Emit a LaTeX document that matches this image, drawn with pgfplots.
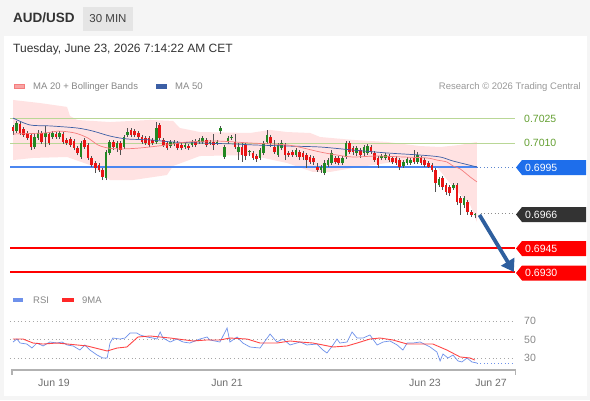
\documentclass[border=0pt]{standalone}
\usepackage{pgfplots}
\pgfplotsset{compat=1.18}
\usepackage{pgfplotstable}
\usetikzlibrary{arrows.meta}
\usepackage{fontspec}
\setmainfont{Liberation Sans}
\definecolor{candleG}{RGB}{34,135,34}
\definecolor{candleR}{RGB}{232,20,20}
\definecolor{wick}{RGB}{80,80,80}
\definecolor{bandfill}{RGB}{255,226,226}
\definecolor{ma20}{RGB}{245,125,125}
\definecolor{ma50}{RGB}{60,95,165}
\definecolor{lvlgreen}{RGB}{185,215,150}
\definecolor{txtgreen}{RGB}{100,160,50}
\definecolor{lvlblue}{RGB}{75,135,240}
\definecolor{boxblue}{RGB}{30,110,235}
\definecolor{boxdark}{RGB}{51,51,51}
\definecolor{lvlred}{RGB}{255,0,0}
\definecolor{rsiblue}{RGB}{110,145,235}
\definecolor{rsired}{RGB}{255,40,40}
\definecolor{bggray}{RGB}{245,245,245}
\definecolor{txtgray}{RGB}{136,136,136}
\definecolor{txtdate}{RGB}{110,110,110}
\definecolor{arrowblue}{RGB}{46,95,158}

\pgfplotstableread{
x o h l c
1 0.70175 0.70238 0.70163 0.70225
6 0.70076 0.70163 0.70064 0.70138
7 0.70132 0.70182 0.70120 0.70163
9 0.70138 0.70207 0.70076 0.70163
11 0.70138 0.70175 0.70126 0.70163
13 0.70138 0.70175 0.70126 0.70163
19 0.70014 0.70113 0.70002 0.70101
26 0.69884 0.70057 0.69871 0.70045
27 0.70039 0.70120 0.70026 0.70107
29 0.70070 0.70113 0.70045 0.70101
31 0.70076 0.70151 0.70064 0.70138
32 0.70151 0.70194 0.70138 0.70169
40 0.70107 0.70231 0.70095 0.70194
44 0.70082 0.70120 0.70070 0.70107
45 0.70095 0.70120 0.70082 0.70107
48 0.70076 0.70101 0.70064 0.70089
50 0.70089 0.70120 0.70076 0.70107
52 0.70107 0.70132 0.70095 0.70120
53 0.70107 0.70144 0.70095 0.70132
55 0.70101 0.70120 0.70089 0.70107
57 0.70101 0.70120 0.70089 0.70107
58 0.70175 0.70207 0.70157 0.70194
59 0.70014 0.70089 0.70002 0.70076
60 0.70107 0.70144 0.70095 0.70132
61 0.70132 0.70151 0.70120 0.70138
63 0.70045 0.70101 0.69995 0.70076
66 0.70045 0.70057 0.70020 0.70051
69 0.70008 0.70070 0.69995 0.70057
70 0.70039 0.70113 0.70026 0.70101
71 0.70107 0.70182 0.70095 0.70151
74 0.70026 0.70101 0.70014 0.70089
75 0.70070 0.70120 0.70057 0.70101
79 0.70026 0.70070 0.70014 0.70057
86 0.69933 0.69964 0.69915 0.69952
87 0.69915 0.69995 0.69902 0.69977
88 0.69964 0.70008 0.69952 0.69995
89 0.69977 0.70057 0.69964 0.70039
92 0.69977 0.70020 0.69964 0.70008
93 0.70014 0.70113 0.70002 0.70101
96 0.70039 0.70082 0.70020 0.70070
98 0.70039 0.70089 0.70020 0.70076
99 0.70039 0.70095 0.70026 0.70082
103 0.70008 0.70033 0.69995 0.70020
104 0.70008 0.70039 0.69995 0.70026
109 0.69958 0.69995 0.69946 0.69983
110 0.69977 0.70014 0.69964 0.70002
111 0.69977 0.70008 0.69964 0.69995
113 0.69983 0.70045 0.69971 0.70026
119 0.69840 0.69890 0.69828 0.69878
123 0.69822 0.69853 0.69809 0.69840
126 0.69716 0.69772 0.69697 0.69760
129 0.69654 0.69666 0.69635 0.69660
}\greentab

\pgfplotstableread{
x o h l c
0 0.70200 0.70213 0.70151 0.70175
2 0.70219 0.70231 0.70151 0.70163
3 0.70188 0.70200 0.70138 0.70151
4 0.70163 0.70175 0.70120 0.70132
5 0.70151 0.70163 0.70057 0.70076
8 0.70163 0.70175 0.70095 0.70107
10 0.70157 0.70169 0.70089 0.70101
12 0.70157 0.70169 0.70126 0.70138
14 0.70157 0.70169 0.70095 0.70107
15 0.70120 0.70132 0.70089 0.70101
16 0.70126 0.70138 0.70076 0.70089
17 0.70113 0.70126 0.70057 0.70070
18 0.70070 0.70082 0.70026 0.70039
20 0.70120 0.70132 0.70064 0.70076
21 0.70089 0.70101 0.69995 0.70008
22 0.70008 0.70020 0.69952 0.69964
23 0.69977 0.69989 0.69915 0.69946
24 0.69964 0.69977 0.69921 0.69933
25 0.69933 0.69946 0.69871 0.69890
28 0.70107 0.70120 0.70057 0.70076
30 0.70101 0.70113 0.70026 0.70057
33 0.70182 0.70194 0.70138 0.70151
34 0.70175 0.70188 0.70138 0.70151
35 0.70163 0.70175 0.70126 0.70138
36 0.70138 0.70151 0.70095 0.70107
37 0.70132 0.70144 0.70089 0.70101
38 0.70132 0.70144 0.70076 0.70089
39 0.70120 0.70132 0.70089 0.70101
41 0.70213 0.70225 0.70120 0.70132
42 0.70120 0.70132 0.70076 0.70089
43 0.70101 0.70113 0.70057 0.70070
46 0.70101 0.70113 0.70057 0.70070
47 0.70089 0.70101 0.70057 0.70070
49 0.70082 0.70095 0.70057 0.70070
51 0.70113 0.70126 0.70076 0.70089
54 0.70120 0.70132 0.70076 0.70089
56 0.70107 0.70157 0.70057 0.70089
62 0.70107 0.70157 0.70064 0.70076
64 0.70076 0.70101 0.69983 0.70026
65 0.70089 0.70101 0.69995 0.70020
67 0.70039 0.70051 0.69995 0.70008
68 0.70020 0.70033 0.69983 0.70002
72 0.70138 0.70151 0.70076 0.70101
73 0.70076 0.70120 0.70033 0.70045
76 0.70089 0.70101 0.69995 0.70026
77 0.70039 0.70051 0.70014 0.70026
78 0.70045 0.70057 0.70014 0.70026
80 0.70045 0.70057 0.69995 0.70014
81 0.70039 0.70051 0.69995 0.70014
82 0.70026 0.70039 0.69946 0.69995
83 0.70014 0.70026 0.69971 0.69983
84 0.70008 0.70020 0.69964 0.69983
85 0.69952 0.69977 0.69921 0.69933
90 0.70008 0.70020 0.69971 0.69983
91 0.70008 0.70020 0.69964 0.69977
94 0.70101 0.70113 0.70033 0.70045
95 0.70070 0.70082 0.70026 0.70045
97 0.70057 0.70070 0.70008 0.70026
100 0.70076 0.70089 0.70033 0.70045
101 0.70039 0.70051 0.69983 0.69995
102 0.70008 0.70020 0.69946 0.69964
105 0.70020 0.70033 0.69983 0.69995
106 0.70008 0.70020 0.69971 0.69983
107 0.70008 0.70020 0.69964 0.69977
108 0.69995 0.70008 0.69933 0.69952
112 0.70008 0.70057 0.69971 0.69983
114 0.70008 0.70020 0.69964 0.69977
115 0.69995 0.70008 0.69952 0.69964
116 0.69977 0.69989 0.69946 0.69952
117 0.69964 0.69977 0.69921 0.69933
118 0.69933 0.69946 0.69797 0.69853
120 0.69884 0.69896 0.69809 0.69828
121 0.69840 0.69853 0.69778 0.69797
122 0.69828 0.69840 0.69772 0.69791
124 0.69840 0.69853 0.69716 0.69735
125 0.69760 0.69772 0.69654 0.69728
127 0.69735 0.69747 0.69654 0.69673
128 0.69673 0.69685 0.69641 0.69654
}\redtab

\begin{document}
\begin{tikzpicture}[x=1pt,y=1pt]
% background and panel
\fill[bggray] (0,0) rectangle (590,400);
\fill[white] (4,4) rectangle (587,364);
\fill[black!10] (83,369) rectangle (133,393);
\node[anchor=west, inner sep=0pt, text=black!80, font=\bfseries\fontsize{13.5}{16}\selectfont] at (13,382) {AUD/USD};
\node[inner sep=0pt, text=black!75, font=\fontsize{11.5}{14}\selectfont] at (108,381) {30 MIN};
\node[anchor=base west, inner sep=0pt, text=black!80, font=\fontsize{12}{14}\selectfont] at (13,347) {Tuesday, June 23, 2026 7:14:22 AM CET};
% legend main
\fill[ma20!70] (14,311) rectangle (25,316);
\draw[ma20, line width=0.6pt] (14.3,311.3) rectangle (24.7,315.7);
\node[anchor=base west, inner sep=0pt, text=txtgray, font=\fontsize{9.5}{11}\selectfont] at (33,310.5) {MA 20 + Bollinger Bands};
\fill[ma50] (156,311) rectangle (167,315.5);
\node[anchor=base west, inner sep=0pt, text=txtgray, font=\fontsize{9.5}{11}\selectfont] at (175,310.5) {MA 50};
\node[anchor=base east, inner sep=0pt, text=black!40, font=\fontsize{9.5}{11}\selectfont] at (581,310.5) {Research © 2026 Trading Central};
% legend RSI
\fill[rsiblue] (13,98.5) rectangle (23,102);
\node[anchor=base west, inner sep=0pt, text=txtgray, font=\fontsize{9.5}{11}\selectfont] at (33,97) {RSI};
\fill[rsired] (62,98) rectangle (74,102.5);
\node[anchor=base west, inner sep=0pt, text=txtgray, font=\fontsize{9.5}{11}\selectfont] at (82,97) {9MA};

% ================= main price axis =================
\begin{axis}[
  at={(10pt,120pt)}, anchor=south west, scale only axis,
  width=505pt, height=185pt,
  xmin=-0.838, xmax=140.22, ymin=0.69250, ymax=0.70399,
  hide axis, clip=false,
]
% Bollinger band (upper boundary left to right, lower boundary right to left)
\addplot[fill=bandfill, draw=none] coordinates {(0,0.70368) (7.5,0.70349) (15.1,0.70325) (15.9,0.70269) (17.9,0.70244) (27.1,0.70231) (38.3,0.70244) (44.7,0.70238) (46.6,0.70194) (52.2,0.70169) (66.2,0.70163) (71.8,0.70182) (76.5,0.70169) (83,0.70163) (85.8,0.70138) (95,0.70120) (104.5,0.70107) (113.7,0.70082) (119.3,0.70076) (124.9,0.70089) (129.6,0.70107)
 (129.6,0.69610) (127.7,0.69716) (122.9,0.69828) (118.4,0.69952) (113.7,0.69983) (104.5,0.69977) (95,0.69946) (88.5,0.69921) (83.8,0.69921) (76.5,0.69977) (66.2,0.70026) (52.2,0.70020) (44.7,0.69958) (43,0.69902) (33.5,0.69871) (27.1,0.69871) (24.3,0.69921) (21.5,0.69964) (15.1,0.70014) (5.6,0.70008) (0,0.69995)} -- cycle;
% level lines
\addplot[lvlgreen, line width=1pt] coordinates {(-0.838,0.7025) (140.22,0.7025)};
\addplot[lvlgreen, line width=1pt] coordinates {(-0.838,0.7010) (140.22,0.7010)};
\addplot[draw=lvlblue, line width=1.6pt] coordinates {(-0.838,0.6995) (129.6,0.6995)};
\addplot[draw=lvlblue!70!gray, line width=1pt, dash pattern=on 1pt off 2.5pt] coordinates {(129.6,0.6995) (140.22,0.6995)};
\addplot[lvlred, line width=1.6pt] coordinates {(-0.838,0.6945) (140.22,0.6945)};
\addplot[lvlred, line width=1.6pt] coordinates {(-0.838,0.6930) (140.22,0.6930)};
\addplot[black!45, line width=1pt, dash pattern=on 1pt off 2.5pt] coordinates {(130.6,0.6966) (140.22,0.6966)};
% wicks
\addplot[draw=none, mark=none, error bars/.cd, y dir=plus, y explicit, error mark=none, error bar style={draw=wick, line width=0.6pt}] table[x=x, y=l, y error expr=\thisrow{h}-\thisrow{l}] {\greentab};
\addplot[draw=none, mark=none, error bars/.cd, y dir=plus, y explicit, error mark=none, error bar style={draw=wick, line width=0.6pt}] table[x=x, y=l, y error expr=\thisrow{h}-\thisrow{l}] {\redtab};
% bodies
\addplot[draw=none, mark=none, error bars/.cd, y dir=plus, y explicit, error mark=none, error bar style={draw=candleG, line width=2.6pt}] table[x=x, y=o, y error expr=\thisrow{c}-\thisrow{o}] {\greentab};
\addplot[draw=none, mark=none, error bars/.cd, y dir=plus, y explicit, error mark=none, error bar style={draw=candleR, line width=2.6pt}] table[x=x, y=c, y error expr=\thisrow{o}-\thisrow{c}] {\redtab};
% moving averages
\addplot[ma50, line width=0.7pt, smooth] coordinates {(0,0.70256) (4.7,0.70213) (10.3,0.70207) (17.9,0.70194) (22.3,0.70175) (27.1,0.70144) (31.8,0.70126) (38.3,0.70120) (44.7,0.70107) (52.2,0.70101) (61.5,0.70095) (67,0.70089) (76.5,0.70082) (85.8,0.70076) (95,0.70057) (104.5,0.70039) (113.7,0.70026) (119.3,0.70014) (122.9,0.69989) (129.6,0.69952)};
\addplot[ma20, line width=0.7pt, smooth] coordinates {(0,0.70157) (8.9,0.70163) (12.6,0.70175) (17.3,0.70163) (20.9,0.70132) (23.7,0.70089) (26.5,0.70070) (30.2,0.70064) (35.5,0.70070) (43,0.70089) (48.6,0.70107) (57,0.70113) (66.2,0.70101) (76.5,0.70089) (81,0.70070) (85.8,0.70045) (90.5,0.70026) (95,0.70014) (101.7,0.70020) (108.9,0.70014) (115.6,0.70008) (118.4,0.69995) (121.2,0.69983) (122.9,0.69958) (124.9,0.69940) (127.7,0.69890) (129.6,0.69859)};
% forecast arrow
\draw[arrowblue, line width=3.8pt, -{Triangle[length=12pt,width=15pt]}] (axis cs:130.3,0.69654) -- (axis cs:139.9,0.69300);
\end{axis}

% ================= RSI axis =================
\begin{axis}[
  at={(10pt,30pt)}, anchor=south west, scale only axis,
  width=505pt, height=60pt,
  xmin=-0.838, xmax=140.22, ymin=17.03, ymax=81.89,
  axis line style={draw=none},
  ytick=\empty,
  xtick={11.45,59.78,115.08,133.52},
  xticklabels={Jun 19,Jun 21,Jun 23,Jun 27},
  major tick length=0pt,
  xticklabel style={anchor=base, yshift=-16pt, font=\fontsize{10.5}{12}\selectfont, text=txtdate},
  clip=false,
]
\addplot[black!35, line width=0.8pt, dash pattern=on 0.8pt off 3pt] coordinates {(-0.838,70) (140.22,70)};
\addplot[black!35, line width=0.8pt, dash pattern=on 0.8pt off 3pt] coordinates {(-0.838,50) (140.22,50)};
\addplot[black!35, line width=0.8pt, dash pattern=on 0.8pt off 3pt] coordinates {(-0.838,30) (140.22,30)};
\addplot[rsiblue, line width=0.7pt] coordinates {(0,47.3) (1.1,50.5) (2,46.2) (3.9,45.1) (5.3,40.8) (6.7,46.2) (8.4,43.0) (10.3,47.3) (12.3,46.2) (13.7,47.3) (15.1,44.1) (16.8,43.0) (18.7,38.6) (20.1,44.1) (21.5,38.6) (23.5,33.2) (25.1,30.0) (26.3,30.0) (27.1,46.2) (27.9,51.6) (29.9,50.5) (31.3,51.6) (32.7,57.0) (34.6,57.0) (35.5,54.9) (37.4,52.7) (39.1,51.6) (40.2,50.5) (41.1,58.1) (41.9,51.6) (43.9,47.3) (45.8,50.5) (47.5,47.3) (49.4,46.2) (52.2,50.5) (54.2,52.7) (55,49.5) (57.8,47.3) (59.8,62.4) (60.6,47.3) (62.6,52.7) (64.2,46.2) (66.2,41.9) (69,40.8) (71.8,55.9) (73.7,47.3) (75.4,50.5) (77.4,44.1) (80.2,47.3) (82.1,44.1) (84.9,45.1) (86.6,38.6) (87.7,35.4) (89.4,44.1) (90.5,50.5) (91.3,46.2) (93.3,47.3) (94.7,58.1) (96.1,51.6) (97.8,51.6) (99.7,54.9) (101.7,44.1) (103.4,47.3) (105.3,48.4) (107.3,44.1) (108.9,38.6) (110.1,46.2) (111.7,46.2) (113.7,47.3) (116.5,41.9) (118.4,36.5) (119.3,26.8) (120.1,34.3) (121.5,30.0) (122.9,33.2) (124.3,26.8) (125.4,25.7) (126.8,30.0) (128.2,25.7) (129.6,24.6)};
\addplot[rsiblue, line width=0.8pt, dash pattern=on 1pt off 2.5pt] coordinates {(129.6,24.6) (139.7,24.6)};
\addplot[rsired, line width=0.9pt, opacity=0.85] coordinates {(0,50.5) (2.8,50.5) (5.6,46.2) (8.4,45.1) (12.3,46.2) (17.9,44.1) (20.7,43.0) (26.3,37.6) (29.1,40.8) (31.8,41.9) (34.9,52.7) (38.3,53.8) (41.1,52.7) (43.9,51.6) (50.3,48.4) (54.2,49.5) (57.8,49.5) (60.6,51.6) (65.4,50.5) (69,46.2) (73.7,46.2) (77.4,48.4) (80.2,47.3) (83.8,46.2) (89.4,41.9) (93.3,43.0) (96.1,46.2) (99.7,50.5) (102.5,51.6) (106.1,49.5) (110.1,45.1) (117.3,45.1) (121.2,38.6) (124.9,31.1) (127.7,30.0) (129,27.8)};
\end{axis}

% x-axis line of lower panel
\draw[black!30, line width=2pt] (11,30) -- (516,30);
\draw[black!30, line width=1.5pt] (11.75,31) -- (11.75,25);
\draw[black!30, line width=1.5pt] (515.25,31) -- (515.25,25);

% RSI level labels
\node[anchor=west, inner sep=0pt, text=txtgray, font=\fontsize{10.5}{12}\selectfont] at (524,79) {70};
\node[anchor=west, inner sep=0pt, text=txtgray, font=\fontsize{10.5}{12}\selectfont] at (524,60.5) {50};
\node[anchor=west, inner sep=0pt, text=txtgray, font=\fontsize{10.5}{12}\selectfont] at (524,42) {30};

% price level labels
\node[anchor=west, inner sep=0pt, text=txtgreen, font=\fontsize{10.5}{12}\selectfont] at (524,281) {0.7025};
\node[anchor=west, inner sep=0pt, text=txtgreen, font=\fontsize{10.5}{12}\selectfont] at (524,257) {0.7010};
\fill[boxblue] (516,232.5) -- (522,240) -- (586,240) -- (586,225) -- (522,225) -- cycle;
\node[anchor=west, inner sep=0pt, text=white, font=\fontsize{10.5}{12}\selectfont] at (525,232.5) {0.6995};
\fill[boxdark] (516,185.5) -- (522,193) -- (586,193) -- (586,178) -- (522,178) -- cycle;
\node[anchor=west, inner sep=0pt, text=white, font=\fontsize{10.5}{12}\selectfont] at (525,185.5) {0.6966};
\fill[lvlred] (516,151.5) -- (522,159) -- (586,159) -- (586,144) -- (522,144) -- cycle;
\node[anchor=west, inner sep=0pt, text=white, font=\fontsize{10.5}{12}\selectfont] at (525,151.5) {0.6945};
\fill[lvlred] (516,127) -- (522,134.5) -- (586,134.5) -- (586,119.5) -- (522,119.5) -- cycle;
\node[anchor=west, inner sep=0pt, text=white, font=\fontsize{10.5}{12}\selectfont] at (525,127) {0.6930};
\end{tikzpicture}
\end{document}
